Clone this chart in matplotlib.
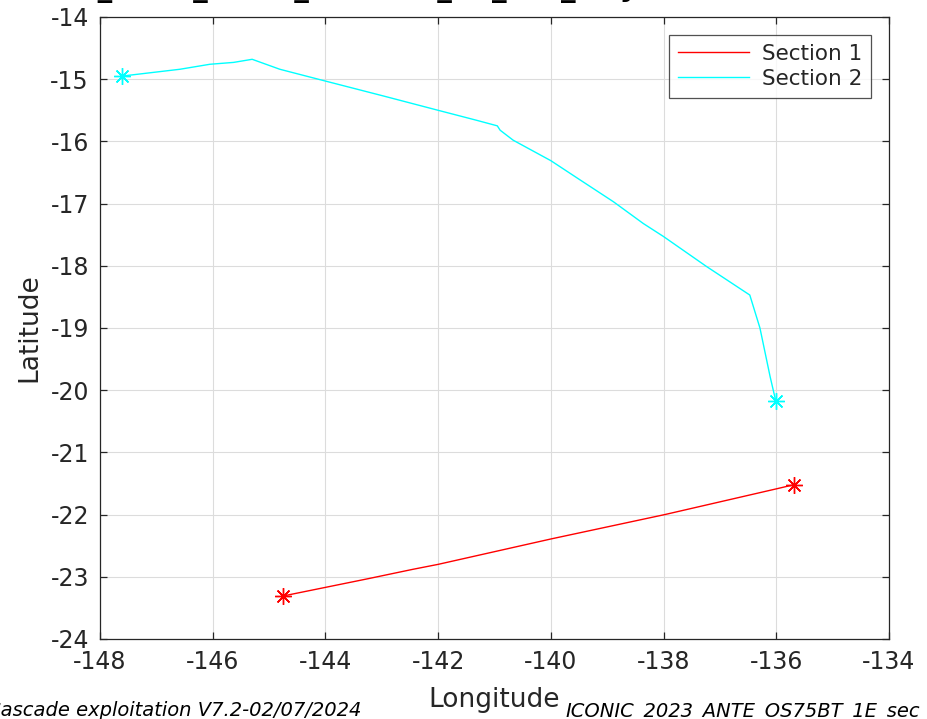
import matplotlib
matplotlib.use("Agg")
import matplotlib.pyplot as plt

plt.rcParams["axes.unicode_minus"] = False

# Section tracks (longitude, latitude)
sec1_lon = [-144.76, -144.0, -143.24, -142.45, -142.0, -139.99, -137.98, -135.97, -135.69]
sec1_lat = [-23.31, -23.17, -23.03, -22.88, -22.80, -22.39, -22.0, -21.58, -21.52]

sec2_lon = [-147.61, -146.58, -146.05, -145.63, -145.30, -144.81, -144.0, -142.97,
            -142.0, -141.32, -140.95, -140.9, -140.67, -140.0, -139.48, -138.89,
            -138.36, -138.0, -137.24, -136.47, -136.29, -136.11, -136.01]
sec2_lat = [-14.95, -14.84, -14.76, -14.73, -14.68, -14.84, -15.03, -15.27,
            -15.50, -15.66, -15.75, -15.82, -15.98, -16.31, -16.62, -16.97,
            -17.32, -17.53, -18.01, -18.47, -19.0, -19.78, -20.17]

series_names = ["Section 1", "Section 2"]
series_colors = ["#ff0000", "#00ffff"]

x_ticks = [-148, -146, -144, -142, -140, -138, -136, -134]
y_ticks = [-14, -15, -16, -17, -18, -19, -20, -21, -22, -23, -24]

title_text = "ICONIC_2023_ANTE_OS75BT_1E_sec_traj"
footer_left = "Cascade exploitation V7.2-02/07/2024"
footer_right = "ICONIC_2023_ANTE_OS75BT_1E_sec"

W, H = 927, 719
fig = plt.figure(figsize=(W / 100, H / 100), dpi=100)
fig.patch.set_facecolor("white")
ax = fig.add_axes([100 / W, 1 - 639 / H, 789 / W, 622 / H])

# MATLAB-style asterisk marker: union of '+' and 'x'
asterisk = (8, 2, 0)

tracks = [(sec1_lon, sec1_lat), (sec2_lon, sec2_lat)]
for (lon, lat), name, col in zip(tracks, series_names, series_colors):
    ax.plot(lon, lat, color=col, lw=1.0, label=name)
    ax.plot([lon[0], lon[-1]], [lat[0], lat[-1]], ls="none", marker=asterisk,
            ms=12, mew=1.0, color=col)

ax.set_xlim(-148, -134)
ax.set_ylim(-24, -14)
ax.set_xticks(x_ticks)
ax.set_yticks(y_ticks)
ax.grid(True, color="#dcdcdc", lw=0.8)
ax.set_axisbelow(True)
for sp in ax.spines.values():
    sp.set_color("#262626")
    sp.set_linewidth(0.9)
ax.tick_params(direction="in", length=5, width=0.9, colors="#262626",
               labelsize=17, top=True, right=True, pad=8)
for lbl in ax.get_xticklabels() + ax.get_yticklabels():
    lbl.set_color("#262626")

ax.set_xlabel("Longitude", fontsize=19, color="#262626", labelpad=9)
ax.set_ylabel("Latitude", fontsize=19, color="#262626", labelpad=5.5)

leg = ax.legend(loc="upper right", fontsize=15.5, handlelength=3.3,
                frameon=True, fancybox=False, borderpad=0.4,
                labelspacing=0.25, handletextpad=0.6, borderaxespad=0,
                bbox_to_anchor=(0.977, 0.971))
leg.get_frame().set_edgecolor("#262626")
leg.get_frame().set_linewidth(0.9)
for t in leg.get_texts():
    t.set_color("#262626")

fig.text(-16 / W, 1 + 4 / H, title_text, fontsize=21, fontweight="bold",
         color="#000000", ha="left", va="baseline")
fig.text(-13 / W, 1 - 716.5 / H, footer_left, fontsize=14, style="italic",
         color="#000000", ha="left", va="baseline")
fig.text(565 / W, 1 - 716.5 / H, footer_right, fontsize=14, style="italic",
         color="#000000", ha="left", va="baseline")

fig.savefig("out.png", dpi=100, facecolor="white")
